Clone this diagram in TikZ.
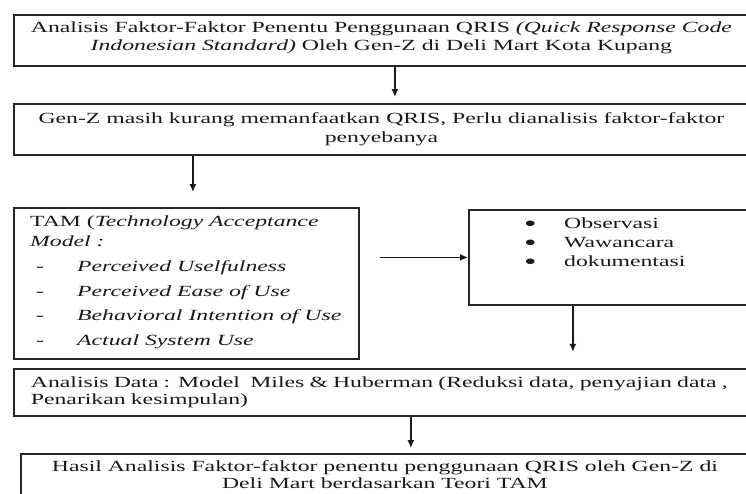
\documentclass[tikz,border=0pt]{standalone}
\usepackage{fontspec}
\setmainfont{Liberation Serif}[FakeStretch=1.53]
\usetikzlibrary{arrows.meta}

\tikzset{
	kotak/.style={draw=black!85, line width=1.8pt, anchor=north west, inner sep=0pt},
	isi/.style={anchor=north west, align=left, inner sep=0pt},
	panah/.style={-{Latex[length=8pt,width=7pt]}, line width=1.4pt, draw=black!90}
}
\newcommand{\titikbesar}{\makebox[40pt][l]{\smash{\raisebox{-2.6pt}{\scalebox{1.5}{•}}}}}

\begin{document}
\begin{tikzpicture}[x=1pt, y=-1pt, font=\fontsize{15.5}{18.5}\selectfont, text=black!90]
		\useasboundingbox (0,0) rectangle (746,493);
		\clip (0,0) rectangle (746,493);
		
		\node[kotak, minimum width=735pt, minimum height=51pt, align=center] (judul) at (13,14) {Analisis Faktor-Faktor Penentu Penggunaan QRIS \textit{(Quick Response Code}\\\textit{Indonesian Standard)} Oleh Gen-Z di Deli Mart Kota Kupang\rule[-9pt]{0pt}{0pt}};
		\node[kotak, minimum width=735pt, minimum height=51pt, align=center] (masalah) at (13,103) {Gen-Z masih kurang memanfaatkan QRIS, Perlu dianalisis faktor-faktor\\penyebanya};
		
		\node[kotak, minimum width=345pt, minimum height=151pt] (tam) at (13,207) {};
		\node[isi] (tamisi) at (30,216) {TAM (\textit{Technology Acceptance}\\[1.5pt]
			\textit{Model :}\\[6.5pt]
			\hspace*{6pt}\makebox[41pt][l]{-}\textit{Perceived Uselfulness}\\[6pt]
			\hspace*{6pt}\makebox[41pt][l]{-}\textit{Perceived Ease of Use}\\[6pt]
			\hspace*{6pt}\makebox[41pt][l]{-}\textit{Behavioral Intention of Use}\\[6pt]
			\hspace*{6pt}\makebox[41pt][l]{-}\textit{Actual System Use}};
		
		\node[kotak, minimum width=292pt, minimum height=95pt] (metode) at (468,209) {};
		\node[isi] (daftar) at (524,218) {\titikbesar Observasi\\[0.5pt]
			\titikbesar Wawancara\\[0.5pt]
			\titikbesar dokumentasi};
		
		\node[kotak, minimum width=747pt, minimum height=47pt, align=left, text width=713pt, inner xsep=17pt, font=\fontsize{15.5}{17}\selectfont] (analisis) at (13,368) {Analisis Data : Model\ \ Miles \& Huberman (Reduksi data, penyajian data ,\\Penarikan kesimpulan)};
		\node[kotak, minimum width=728pt, minimum height=47pt, align=center, font=\fontsize{15.5}{17}\selectfont] (hasil) at (20,453) {Hasil Analisis Faktor-faktor penentu penggunaan QRIS oleh Gen-Z di\\Deli Mart berdasarkan Teori TAM\rule[-6pt]{0pt}{0pt}};
		
		\draw[panah] ([xshift=13.5pt]judul.south) -- ([xshift=13.5pt,yshift=6pt]masalah.north);
		\draw[panah] ([xshift=-188.5pt]masalah.south) -- ([xshift=6.5pt,yshift=15pt]tam.north);
		\draw[panah] (tam.east |- metode.west) ++(20pt,0) -- (metode.west);
		\draw[panah] ([xshift=-42pt]metode.south) -- ++(0,46);
		\draw[panah] ([xshift=23.5pt]analisis.south) -- ([xshift=26pt,yshift=5pt]hasil.north);
	\end{tikzpicture}
\end{document}
